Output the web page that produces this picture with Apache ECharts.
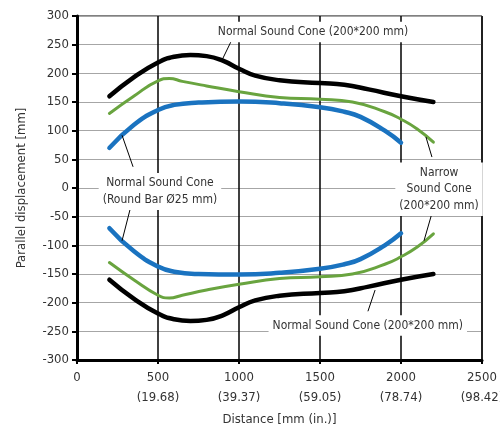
<!DOCTYPE html>
<html>
<head>
<meta charset="utf-8">
<script src="https://cdn.jsdelivr.net/npm/echarts@6/dist/echarts.min.js"></script>
<style>
  html, body { margin: 0; padding: 0; background: #fff; }
  #chart { width: 500px; height: 428px; }
</style>
</head>
<body>
<div id="chart"></div>
<script>
// x tick labels: mm on the first row, inches on the second
const mmTicks = ['0', '500', '1000', '1500', '2000', '2500'];
const inTicks = ['', '(19.68)', '(39.37)', '(59.05)', '(78.74)', '(98.42)'];

// normal sound cone 200*200 (black)
const blackX = [200, 350, 500, 600, 700, 800, 900, 1000, 1100, 1250, 1500, 1650, 1800, 2000, 2200];
const blackUp = [160, 193, 219, 229, 232, 230, 222, 208, 196, 188, 183, 180, 172, 160, 150];
const blackLow = [-160, -193, -219, -229, -232, -230, -222, -208, -196, -188, -183, -180, -172, -160, -150];

// narrow sound cone (green)
const greenX = [200, 350, 500, 570, 650, 800, 1000, 1250, 1500, 1700, 1900, 2000, 2100, 2200];
const greenUp = [130, 160, 187, 191, 186, 178, 168, 158, 155, 150, 133, 120, 103, 80];
const greenLow = [-130, -160, -187, -192, -187, -178, -168, -158, -155, -150, -133, -120, -103, -80];

// round bar 25 mm (blue)
const blueX = [200, 350, 500, 600, 750, 1000, 1250, 1500, 1650, 1750, 1900, 2000];
const blueUp = [70, 110, 136, 145, 149, 151, 148, 141, 133, 124, 100, 79];
const blueLow = [-70, -110, -137, -146, -150, -151, -148, -141, -133, -124, -100, -79];

const FONT = '"Liberation Sans Narrow", "DejaVu Sans Condensed", "Noto Sans", sans-serif';

const pair = (xs, ys) => xs.map((x, i) => [x, ys[i]]);

const chart = echarts.init(document.getElementById('chart'));

const curve = (xs, ys, color, width) => ({
  type: 'line',
  data: pair(xs, ys),
  smooth: 0.5,
  showSymbol: false,
  lineStyle: { color: color, width: width, cap: 'round' },
  z: 3,
  silent: true
});

const note = (coord, text) => ({
  coord: coord,
  symbol: 'rect',
  symbolSize: 1,
  itemStyle: { color: 'rgba(0,0,0,0)' },
  label: {
    show: true,
    position: 'inside',
    formatter: text,
    color: '#333',
    fontFamily: FONT,
    fontSize: 12,
    lineHeight: 16.5,
    backgroundColor: '#fff',
    padding: [2, 4]
  }
});

const leader = (a, b) => [{ coord: a }, { coord: b }];

const tickFont = { color: '#333', fontFamily: FONT, fontSize: 13 };

// axis that only carries a row of tick labels under the plot
const labelRow = (offset, texts) => ({
  type: 'value',
  position: 'bottom',
  offset: offset,
  min: 0,
  max: 2500,
  interval: 500,
  axisLine: { show: false },
  axisTick: { show: false },
  axisLabel: Object.assign({ margin: 11, formatter: v => texts[Math.round(v / 500)] }, tickFont),
  splitLine: { show: false }
});

chart.setOption({
  animation: false,
  grid: {
    left: 77, right: 18, top: 16, bottom: 68,
    outerBoundsMode: 'none',
    show: true, borderColor: '#000', borderWidth: 1
  },
  xAxis: [{
    type: 'value',
    min: 0,
    max: 2500,
    interval: 500,
    name: 'Distance [mm (in.)]',
    nameLocation: 'middle',
    nameGap: 53,
    nameTextStyle: tickFont,
    axisLine: { onZero: false, lineStyle: { color: '#000', width: 3 } },
    axisTick: { length: 4, lineStyle: { color: '#000', width: 2 } },
    axisLabel: { show: false },
    splitLine: { show: true, lineStyle: { color: '#000', width: 1.5 } }
  },
  labelRow(0, mmTicks),
  labelRow(20, inTicks)],
  yAxis: {
    type: 'value',
    min: -300,
    max: 300,
    interval: 50,
    name: 'Parallel displacement [mm]',
    nameLocation: 'middle',
    nameGap: 49,
    nameTextStyle: tickFont,
    axisLine: { show: true, onZero: false, lineStyle: { color: '#000', width: 3 } },
    axisTick: { show: true, length: 5, lineStyle: { color: '#000', width: 2 } },
    axisLabel: Object.assign({ margin: 8 }, tickFont),
    splitLine: { show: true, lineStyle: { color: '#a6a6a6', width: 1 } }
  },
  series: [
    curve(blackX, blackUp, '#000', 4.5),
    curve(blackX, blackLow, '#000', 4.5),
    curve(greenX, greenUp, '#69a43f', 3),
    curve(greenX, greenLow, '#69a43f', 3),
    curve(blueX, blueUp, '#1a73c0', 4.5),
    curve(blueX, blueLow, '#1a73c0', 4.5),
    {
      type: 'scatter',
      data: [],
      z: 5,
      silent: true,
      markLine: {
        silent: true,
        symbol: ['none', 'none'],
        label: { show: false },
        lineStyle: { color: '#000', width: 1, type: 'solid' },
        data: [
          leader([962, 262], [895, 223]),
          leader([278, 92], [346, 37]),
          leader([327, -38], [278, -92]),
          leader([2154, 89], [2191, 54]),
          leader([2191, -44], [2142, -92]),
          leader([1840, -178], [1796, -215])
        ]
      },
      markPoint: {
        silent: true,
        data: [
          note([1457, 272], 'Normal Sound Cone (200*200 mm)'),
          note([512, -6], 'Normal Sound Cone\n(Round Bar Ø25 mm)'),
          note([2235, -2], 'Narrow\nSound Cone\n(200*200 mm)'),
          note([1795, -240], 'Normal Sound Cone (200*200 mm)')
        ]
      }
    }
  ]
});
</script>
</body>
</html>
